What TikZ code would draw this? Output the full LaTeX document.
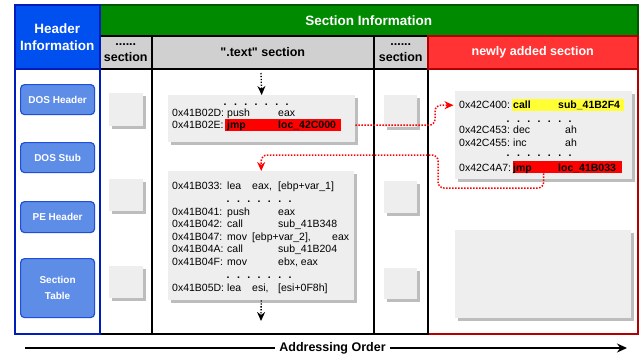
\documentclass[tikz,border=0pt]{standalone}
\usepackage{fontspec}
\setmainfont{Liberation Sans}[Ligatures=TeXOff]
\usetikzlibrary{arrows.meta,shadows}

\definecolor{hdrblue}{HTML}{0050EF}
\definecolor{hdrblueline}{HTML}{001DBC}
\definecolor{secgreen}{HTML}{008A00}
\definecolor{secgreenline}{HTML}{005700}
\definecolor{subgray}{HTML}{D0D0D0}
\definecolor{newred}{HTML}{FF3333}
\definecolor{newredline}{HTML}{B20000}
\definecolor{btnfill}{HTML}{5E8DE8}
\definecolor{btnline}{HTML}{1F4FD8}
\definecolor{boxfill}{HTML}{EEEEEE}
\definecolor{boxshadow}{HTML}{BDBDBD}
\definecolor{hlred}{HTML}{FF0000}
\definecolor{hlyellow}{HTML}{FFFF33}

\newcommand\hdfont{\bfseries\fontsize{13.5}{17}\selectfont}
\newcommand\subfont{\bfseries\fontsize{12.5}{16}\selectfont}
\newcommand\codefont{\fontsize{10.5}{12.5}\selectfont}
\newcommand\codedots{\bfseries.\hspace{7.4pt}.\hspace{7.4pt}.\hspace{7.4pt}.\hspace{7.4pt}.\hspace{7.4pt}.\hspace{7.4pt}.}

\begin{document}
\begin{tikzpicture}[x=1pt,y=-1pt,
  cell/.style={draw,line width=1.5pt,anchor=north west,inner sep=0pt,align=center,font=\subfont},
  btn/.style={draw=btnline,fill=btnfill,line width=1.2pt,rounded corners=4pt,anchor=north west,
    inner sep=0pt,minimum width=74pt,align=center,text=white,font=\bfseries\fontsize{10}{16}\selectfont},
  gbox/.style={fill=boxfill,anchor=north west,inner sep=0pt,
    drop shadow={shadow xshift=2.5pt,shadow yshift=-2.5pt,fill=boxshadow,opacity=1}},
  hl/.style={anchor=north west,inner sep=0pt},
  code/.style={anchor=base west,inner sep=0pt,font=\codefont},
  flowblk/.style={line width=1.3pt,dash pattern=on 1.3pt off 1.6pt,-{Stealth[length=9pt,width=8pt]}},
  jumpline/.style={hlred,line width=1.5pt,dash pattern=on 1.5pt off 1.5pt,rounded corners=6pt,
    -{Stealth[length=9pt,width=8pt]}}]
\useasboundingbox (0,0) rectangle (643,360);

% columns of the section part
\node[cell,draw=newredline,minimum width=210pt,minimum height=265pt] (col4) at (427,68) {};
\node[cell,minimum width=52pt,minimum height=265pt] (col1) at (99,68) {};
\node[cell,minimum width=222pt,minimum height=265pt] (col2) at (151,68) {};
\node[cell,minimum width=54pt,minimum height=265pt] (col3) at (373,68) {};

% headings
\node[cell,draw=secgreenline,fill=secgreen,text=white,font=\hdfont,minimum width=538pt,minimum height=31pt] (secinfo) at (99,4) {Section Information};
\node[cell,fill=subgray,minimum width=52pt,minimum height=33pt] (sec1) at (99,35) {......\\section};
\node[cell,fill=subgray,minimum width=222pt,minimum height=33pt] (sec2) at (151,35) {".text" section};
\node[cell,fill=subgray,minimum width=54pt,minimum height=33pt] (sec3) at (373,35) {......\\section};
\node[cell,draw=newredline,fill=newred,text=white,minimum width=210pt,minimum height=33pt] (newsec) at (427,35) {newly added section};

% header column
\node[cell,draw=hdrblueline,fill=white,minimum width=85pt,minimum height=265pt] (hdrbody) at (14,68) {};
\node[cell,draw=hdrblueline,fill=hdrblue,text=white,font=\hdfont,minimum width=85pt,minimum height=64pt] (hdr) at (14,4) {Header\\Information};
\node[btn,minimum height=30pt] (doshdr) at (20,84) {DOS Header};
\node[btn,minimum height=30pt] (dosstub) at (20,142) {DOS Stub};
\node[btn,minimum height=31pt] (pehdr) at (20,201) {PE Header};
\node[btn,minimum height=59pt] (sectab) at (20,258) {Section\\Table};

% other sections
\node[gbox,minimum width=34pt,minimum height=33pt] (qa1) at (109,93) {};
\node[gbox,minimum width=34pt,minimum height=32pt] (qa2) at (109,179) {};
\node[gbox,minimum width=34pt,minimum height=32pt] (qa3) at (109,266) {};
\node[gbox,minimum width=33pt,minimum height=32pt] (qb1) at (384,95) {};
\node[gbox,minimum width=33pt,minimum height=32pt] (qb2) at (384,181) {};
\node[gbox,minimum width=33pt,minimum height=31pt] (qb3) at (384,268) {};

% code blocks
\node[gbox,minimum width=187pt,minimum height=47pt] (txt1) at (168,95) {};
\node[gbox,minimum width=186pt,minimum height=129pt] (txt2) at (168,171) {};
\node[gbox,minimum width=177pt,minimum height=88pt] (txt3) at (455,91) {};
\node[gbox,minimum width=176pt,minimum height=88pt] (empty) at (455,230) {};

\node[hl,fill=hlred,minimum width=116pt,minimum height=12pt] (hl1) at (225,119) {};
\node[hl,fill=hlyellow,minimum width=112pt,minimum height=12pt] (hl2) at (512,99) {};
\node[hl,fill=hlred,minimum width=109pt,minimum height=12pt] (hl3) at (513,161) {};

% .text before the patch
\node[code] (d1) at (223.5,105) {\codedots};
\foreach \n/\yy/\ad/\op/\ar in {
  ta/116/0x41B02D:/push/eax,
  tb/128/0x41B02E:/\textbf{jmp}/\textbf{loc\_42C000}}{
  \node[code] (\n-ad) at (172,\yy) {\ad};
  \node[code] (\n-op) at (227,\yy) {\op};
  \node[code] (\n-ar) at (278,\yy) {\ar};
}

% .text jump target
\node[code] (d2) at (226.5,202) {\codedots};
\node[code] (d3) at (226.5,278) {\codedots};
\foreach \n/\yy/\ad/\op/\oa/\ob in {
  ua/189/0x41B033:/lea/{eax,}/{[ebp+var\_1]},
  ub/215/0x41B041:/push/{}/eax,
  uc/227.5/0x41B042:/call/{}/sub\_41B348,
  ud/240/0x41B047:/mov/{[ebp+var\_2],}/{},
  ue/252.5/0x41B04A:/call/{}/sub\_41B204,
  uf/265/0x41B04F:/mov/{}/{ebx, eax},
  ug/291/0x41B05D:/lea/{esi,}/{[esi+0F8h]}}{
  \node[code] (\n-ad) at (172,\yy) {\ad};
  \node[code] (\n-op) at (227,\yy) {\op};
  \node[code] (\n-oa) at (252,\yy) {\oa};
  \node[code] (\n-ob) at (278,\yy) {\ob};
}
\node[code] (ud-oc) at (332,240) {eax};

% new section
\node[code] (d4) at (506.5,122) {\codedots};
\node[code] (d5) at (506.5,156) {\codedots};
\foreach \n/\yy/\ad/\op/\oa/\ob in {
  na/108.5/0x42C400:/\textbf{call}/{}/\textbf{sub\_41B2F4},
  nb/133.5/0x42C453:/dec/ah/{},
  nc/146/0x42C455:/inc/ah/{},
  nd/171/0x42C4A7:/\textbf{jmp}/{}/\textbf{loc\_41B033}}{
  \node[code] (\n-ad) at (459,\yy) {\ad};
  \node[code] (\n-op) at (513,\yy) {\op};
  \node[code] (\n-oa) at (565,\yy) {\oa};
  \node[code] (\n-ob) at (558,\yy) {\ob};
}

% control flow
\coordinate (topin) at (261,73);
\coordinate (botout) at (261,321);
\coordinate (back1) at (438,188);
\coordinate (back2) at (438,155);
\draw[flowblk] (topin) -- (txt1.north);
\draw[flowblk] (txt2.south) -- (botout);
\draw[jumpline,shorten >=1.5pt] (txt1.east |- hl1.center) -| ([xshift=-20pt]txt3.west |- hl2.center) -- (txt3.west |- hl2.center);
\draw[jumpline] ([xshift=-24pt]hl3.south) |- (back1) |- (txt2.north |- back2) -- (txt2.north);

% addressing order
\node[font=\subfont,inner sep=4pt] (addr) at (332.5,348) {Addressing Order};
\coordinate (aostart) at (25,348);
\coordinate (aoend) at (627,348);
\draw[line width=1.5pt] (aostart) -- (addr.west);
\draw[line width=1.5pt,-{Stealth[length=10pt,width=9pt]}] (addr.east) -- (aoend);
\end{tikzpicture}
\end{document}
